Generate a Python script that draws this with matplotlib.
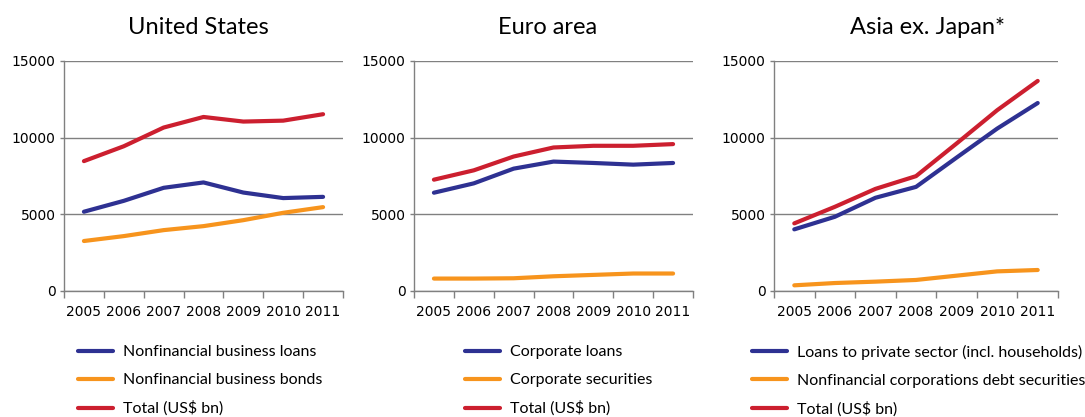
import matplotlib
matplotlib.use("Agg")
import matplotlib.pyplot as plt

years = ["2005", "2006", "2007", "2008", "2009", "2010", "2011"]

titles = ["United States", "Euro area", "Asia ex. Japan*"]

# United States (US$ bn)
us_loans = [5170, 5880, 6730, 7080, 6420, 6060, 6140]
us_bonds = [3260, 3580, 3970, 4230, 4620, 5100, 5470]
us_total = [8470, 9440, 10660, 11350, 11050, 11110, 11530]

# Euro area
ea_loans = [6410, 7020, 7980, 8440, 8350, 8240, 8350]
ea_secs = [810, 810, 830, 960, 1050, 1140, 1140]
ea_total = [7260, 7870, 8770, 9360, 9470, 9470, 9580]

# Asia ex. Japan
as_loans = [4020, 4840, 6080, 6790, 8700, 10590, 12260]
as_secs = [370, 520, 610, 720, 1000, 1280, 1370]
as_total = [4410, 5490, 6660, 7490, 9620, 11790, 13700]

labels_us = ["Nonfinancial business loans", "Nonfinancial business bonds", "Total (US$ bn)"]
labels_ea = ["Corporate loans", "Corporate securities", "Total (US$ bn)"]
labels_as = ["Loans to private sector (incl. households)",
             "Nonfinancial corporations debt securities", "Total (US$ bn)"]

c_blue = "#2e3192"
c_orange = "#f7941d"
c_red = "#cc1f2f"

fig = plt.figure(figsize=(10.85, 4.17), dpi=100)

W, H = 1085.0, 417.0
# axes boxes in pixels: left, right
boxes = [(64, 343), (414, 693), (774, 1058)]
top, bottom = 61, 291
leg_x = [78, 465, 752]
title_x = [198, 548, 927]

data = [(us_loans, us_bonds, us_total, labels_us),
        (ea_loans, ea_secs, ea_total, labels_ea),
        (as_loans, as_secs, as_total, labels_as)]

x = list(range(len(years)))
for i, (l, r) in enumerate(boxes):
    ax = fig.add_axes([l / W, (H - bottom) / H, (r - l) / W, (bottom - top) / H])
    loans, secs, total, labs = data[i]
    h1, = ax.plot(x, loans, color=c_blue, lw=3, solid_capstyle="round")
    h2, = ax.plot(x, secs, color=c_orange, lw=3, solid_capstyle="round")
    h3, = ax.plot(x, total, color=c_red, lw=3, solid_capstyle="round")

    ax.set_xlim(-0.5, 6.5)
    ax.set_ylim(0, 15000)
    ax.set_yticks([0, 5000, 10000, 15000])
    ax.set_xticks(x)
    ax.set_xticklabels(years)
    ax.set_xticks([v - 0.5 for v in range(8)], minor=True)
    ax.tick_params(axis="x", which="major", length=0, pad=10, labelsize=10)
    ax.tick_params(axis="x", which="minor", length=5, color="#808080", width=1)
    ax.tick_params(axis="y", length=3, color="#808080", width=1, labelsize=10, pad=3)
    ax.yaxis.grid(True, color="#808080", lw=1)
    ax.set_axisbelow(True)
    for s in ["top", "right"]:
        ax.spines[s].set_visible(False)
    for s in ["left", "bottom"]:
        ax.spines[s].set_color("#808080")
        ax.spines[s].set_linewidth(1)

    fig.text(title_x[i] / W, 1 - 27 / H, titles[i], ha="center", va="center",
             fontsize=17, family="Lato")

    ax.legend([h1, h2, h3], labs, loc="upper left",
              bbox_to_anchor=(leg_x[i] / W, 1 - 345 / H),
              bbox_transform=fig.transFigure, frameon=False,
              prop={"family": "Lato", "size": 11.5}, handlelength=2.2,
              handletextpad=0.6, labelspacing=0.86, borderaxespad=0, borderpad=0)

fig.savefig("out.png", dpi=100)
